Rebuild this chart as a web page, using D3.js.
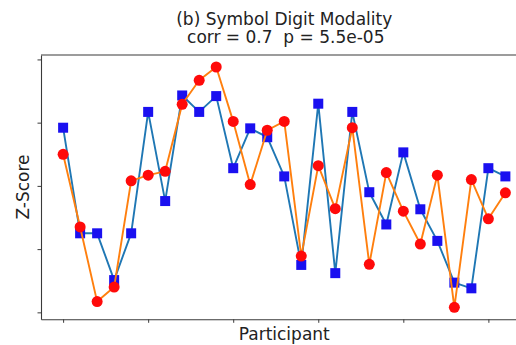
<!DOCTYPE html>
<html>
<head>
<meta charset="utf-8">
<script src="https://cdn.jsdelivr.net/npm/d3@7"></script>
<style>
html,body{margin:0;padding:0;background:#fff;}
svg{display:block;font-family:"DejaVu Sans",sans-serif;}
text{white-space:pre;}
</style>
</head>
<body>
<svg id="chart" width="516" height="345"></svg>
<script>
const participants = d3.range(27);
const seriesA = [0.92,-0.75,-0.75,-1.49,-0.75,1.17,-0.24,1.43,1.17,1.42,0.28,0.91,0.77,0.15,-1.25,1.30,-1.38,1.17,-0.10,-0.61,0.53,-0.37,-0.87,-1.53,-1.62,0.28,0.15];
const seriesB = [0.50,-0.65,-1.83,-1.60,0.08,0.17,0.23,1.29,1.67,1.88,1.02,0.02,0.88,1.02,-1.11,0.32,-0.36,0.92,-1.24,0.21,-0.40,-0.92,0.17,-1.92,0.10,-0.52,-0.11];
const xTicks = [0,5,10,15,20,25];
const yTicks = [-2,-1,0,1,2];
const titleLines = ["(b) Symbol Digit Modality", "corr = 0.7  p = 5.5e-05"];
const xLabel = "Participant";
const yLabel = "Z-Score";

const svg = d3.select("#chart");
const L = 41, R = 527.5, T = 55, B = 319.3;

const xMin = d3.min(participants), xMax = d3.max(participants);
const xPad = (xMax - xMin) * 0.05;
const x = d3.scaleLinear().domain([xMin - xPad, xMax + xPad]).range([L, R]);
const all = seriesA.concat(seriesB);
const yMin = d3.min(all), yMax = d3.max(all);
const yPad = (yMax - yMin) * 0.05;
const y = d3.scaleLinear().domain([yMin - yPad, yMax + yPad]).range([B, T]);

const axisColor = "#3a3a3a";

// spines
svg.append("line").attr("x1", L).attr("x2", R).attr("y1", T).attr("y2", T)
  .attr("stroke", axisColor).attr("stroke-width", 1.1);

const gx = svg.append("g").attr("transform", `translate(0,${B})`)
  .call(d3.axisBottom(x).tickValues(xTicks).tickFormat("").tickSize(3.5).tickSizeOuter(0));
const gy = svg.append("g").attr("transform", `translate(${L},0)`)
  .call(d3.axisLeft(y).tickValues(yTicks).tickFormat("").tickSize(3.5).tickSizeOuter(0));
[gx, gy].forEach(g => {
  g.select(".domain").attr("stroke", axisColor).attr("stroke-width", 1.1);
  g.selectAll(".tick line").attr("stroke", axisColor).attr("stroke-width", 1);
});

function drawSeries(data, lineColor, markerColor, shape) {
  const line = d3.line().x((d, i) => x(participants[i])).y(d => y(d));
  svg.append("path").datum(data).attr("d", line)
    .attr("fill", "none").attr("stroke", lineColor).attr("stroke-width", 1.9)
    .attr("stroke-linejoin", "round");
  if (shape === "square") {
    svg.append("g").selectAll("rect").data(data).join("rect")
      .attr("x", (d, i) => x(participants[i]) - 5)
      .attr("y", d => y(d) - 5)
      .attr("width", 10).attr("height", 10)
      .attr("fill", markerColor);
  } else {
    svg.append("g").selectAll("circle").data(data).join("circle")
      .attr("cx", (d, i) => x(participants[i]))
      .attr("cy", d => y(d))
      .attr("r", 5.5)
      .attr("fill", markerColor);
  }
}
drawSeries(seriesA, "#1f77b4", "#1a10f0", "square");
drawSeries(seriesB, "#ff7f0e", "#ff0a0a", "circle");

const cx = (L + R) / 2;
svg.append("text").attr("x", cx).attr("y", 24.5).attr("text-anchor", "middle")
  .attr("font-size", 17).attr("fill", "#222").text(titleLines[0]);
svg.append("text").attr("x", cx + 1.5).attr("y", 43).attr("text-anchor", "middle")
  .attr("font-size", 17).attr("fill", "#222").text(titleLines[1]);
svg.append("text").attr("x", cx).attr("y", 339.5).attr("text-anchor", "middle")
  .attr("font-size", 17).attr("fill", "#222").text(xLabel);
svg.append("text").attr("transform", `translate(29,187) rotate(-90)`)
  .attr("text-anchor", "middle").attr("font-size", 17).attr("fill", "#222").text(yLabel);
</script>
</body>
</html>
